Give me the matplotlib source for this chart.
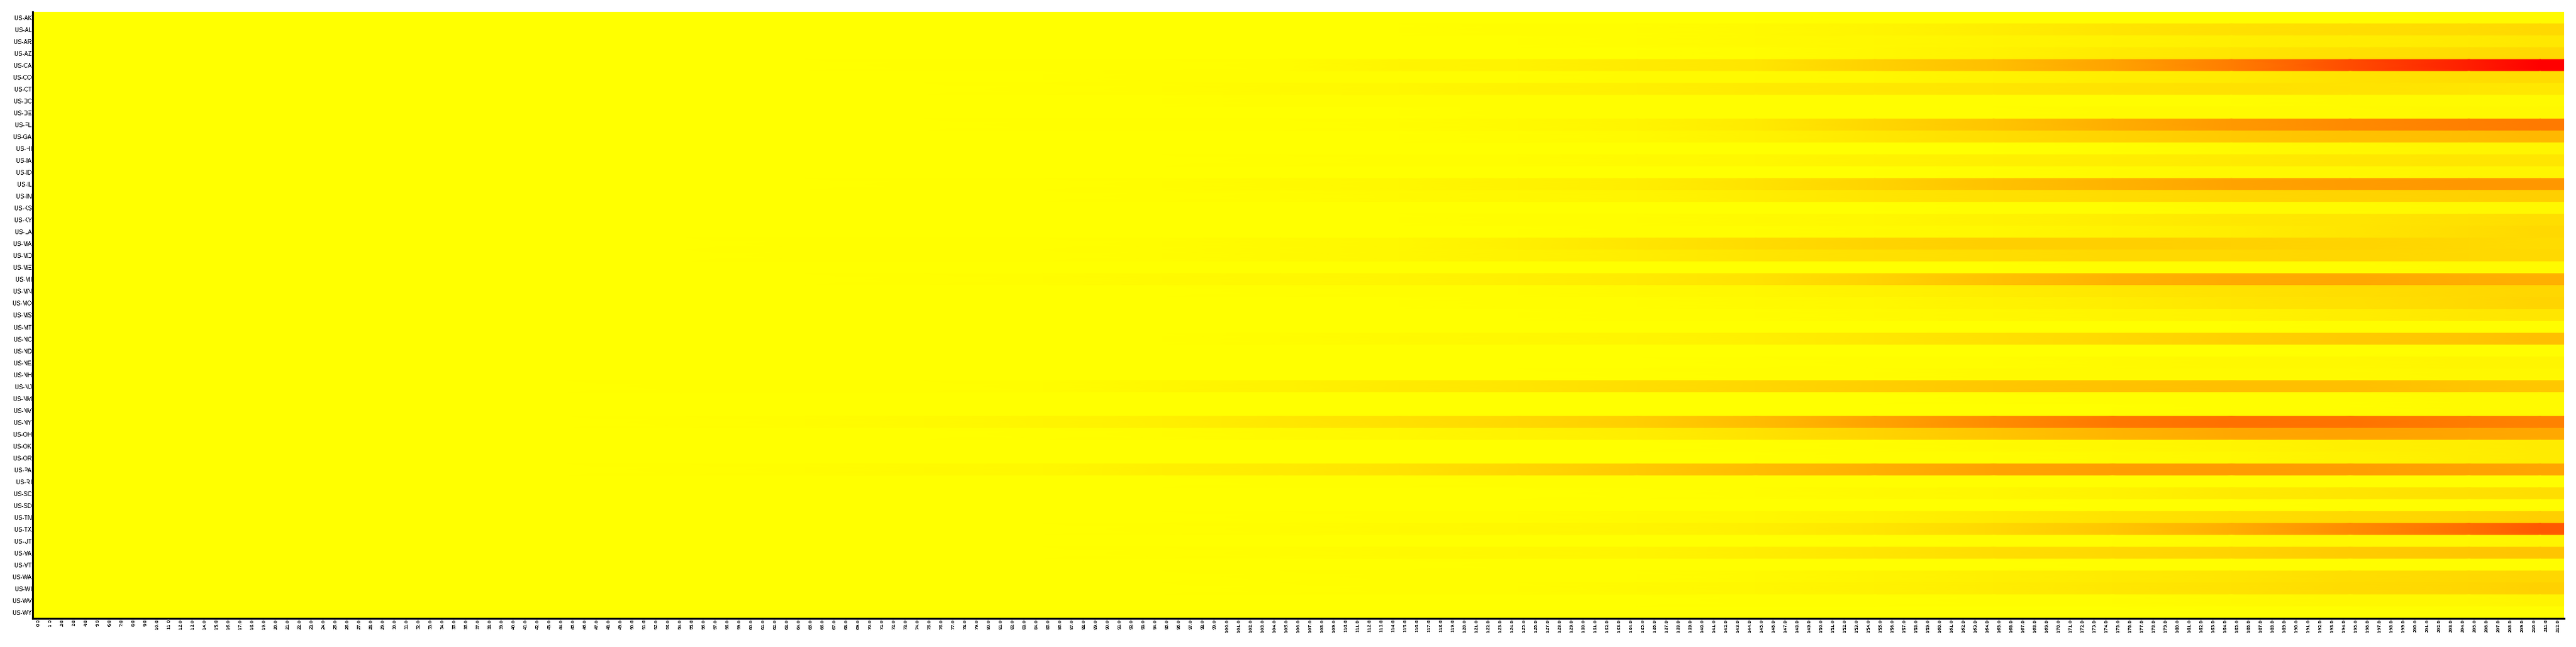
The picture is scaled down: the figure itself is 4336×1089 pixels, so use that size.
import numpy as np
import matplotlib
matplotlib.use("Agg")
import matplotlib.pyplot as plt

# the reference labels are drawn without smoothing
plt.rcParams["text.antialiased"] = False

# state codes, top to bottom
states = ["US-AK", "US-AL", "US-AR", "US-AZ", "US-CA", "US-CO", "US-CT", "US-DC", "US-DE",
          "US-FL", "US-GA", "US-HI", "US-IA", "US-ID", "US-IL", "US-IN", "US-KS", "US-KY",
          "US-LA", "US-MA", "US-MD", "US-ME", "US-MI", "US-MN", "US-MO", "US-MS", "US-MT",
          "US-NC", "US-ND", "US-NE", "US-NH", "US-NJ", "US-NM", "US-NV", "US-NY", "US-OH",
          "US-OK", "US-OR", "US-PA", "US-RI", "US-SC", "US-SD", "US-TN", "US-TX", "US-UT",
          "US-VA", "US-VT", "US-WA", "US-WI", "US-WV", "US-WY"]

# day columns shown on the x axis
days = list(range(213))
day_labels = ["%.1f" % d for d in days]

sample_days = [5, 15, 25, 35, 45, 55, 65, 75, 85, 95, 105, 115, 125, 135, 145,
               155, 165, 175, 185, 195, 205, 211]

# one row per state, one value per sample day (0 = yellow, 100 = red)
values = [
    [0, 0, 0, 0, 0, 0, 0, 0, 0, 0, 0, 0, 0, 0, 0, 1, 1, 1, 1, 1, 2, 2],            # AK
    [0, 0, 0, 0, 0, 0, 0, 0, 0, 0, 0, 0, 1, 1, 2, 4, 7, 10, 12, 13, 14, 15],       # AL
    [0, 0, 0, 0, 0, 0, 0, 0, 0, 0, 0, 0, 0, 1, 2, 3, 4, 5, 6, 7, 8, 9],            # AR
    [0, 0, 0, 0, 0, 0, 0, 0, 0, 0, 0, 0, 0, 0, 1, 3, 5, 8, 10, 12, 14, 15],        # AZ
    [0, 0, 0, 0, 0, 0, 0, 0.5, 0.5, 0.5, 1, 4, 5, 8, 10, 18, 25, 36, 51, 70, 88, 100],  # CA
    [0, 0, 0, 0, 0, 0, 0, 0, 0, 1, 1, 1, 1, 2, 2, 3, 5, 7, 8, 11, 13, 14],         # CO
    [0, 0, 0, 0, 0, 0, 0, 0, 0.5, 1, 2, 3, 5, 6, 8, 9, 10, 11, 12, 11, 10, 9],     # CT
    [0, 0, 0, 0, 0, 0, 0, 0, 0, 0, 1, 1, 1, 1, 1, 1, 1, 1, 1, 2, 2, 2],            # DC
    [0, 0, 0, 0, 0, 0, 0, 0, 0, 0, 0, 0, 1, 1, 1, 1, 1, 2, 2, 2, 3, 3],            # DE
    [0, 0, 0, 0, 0, 0, 0, 0, 0.5, 0.5, 0.5, 1, 2, 4, 8, 16, 23, 32, 40, 46, 50, 52],  # FL
    [0, 0, 0, 0, 0, 0, 0, 0, 0, 0, 0, 0, 1, 2, 5, 9, 13, 17, 21, 24, 26, 28],      # GA
    [0, 0, 0, 0, 0, 0, 0, 0, 0, 0, 0, 0, 0, 0, 0, 0, 0, 1, 2, 3, 4, 4],            # HI
    [0, 0, 0, 0, 0, 0, 0, 0, 0, 0, 0.5, 1, 1, 2, 3, 5, 6, 7, 8, 9, 10, 10],        # IA
    [0, 0, 0, 0, 0, 0, 0, 0, 0, 0, 0, 0, 0, 0, 0, 0, 1, 2, 3, 3, 4, 4],            # ID
    [0, 0, 0, 0, 0, 0, 0, 0.5, 0.5, 1, 2, 3, 5, 7, 11, 17, 24, 30, 36, 39, 41, 41],  # IL
    [0, 0, 0, 0, 0, 0, 0, 0, 0, 0.5, 1, 2, 3, 4, 7, 10, 12, 14, 16, 17, 18, 19],   # IN
    [0, 0, 0, 0, 0, 0, 0, 0, 0, 0, 0, 0, 0, 0, 0, 0, 1, 1, 2, 2, 3, 3],            # KS
    [0, 0, 0, 0, 0, 0, 0, 0, 0, 0, 0, 0, 1, 1, 2, 3, 5, 7, 9, 10, 12, 13],         # KY
    [0, 0, 0, 0, 0, 0, 0, 0, 0, 0, 0, 0, 0, 1, 1, 2, 3, 5, 7, 10, 13, 15],         # LA
    [0, 0, 0, 0, 0, 0, 0.5, 0.5, 0.5, 1, 2, 3, 6, 10, 14, 17, 19, 19, 18, 17, 15, 14],  # MA
    [0, 0, 0, 0, 0, 0, 0.5, 0.5, 0.5, 1, 2, 3, 5, 7, 10, 12, 13, 15, 15, 16, 15, 15],   # MD
    [0, 0, 0, 0, 0, 0, 0, 0, 0, 0, 0, 0, 0, 0, 0, 0, 0, 1, 1, 1, 2, 2],            # ME
    [0, 0, 0, 0, 0, 0, 0, 0.5, 1, 2, 3, 4, 6, 8, 11, 17, 24, 30, 33, 34, 32, 31],  # MI
    [0, 0, 0, 0, 0, 0, 0, 0, 0, 0, 0.5, 1, 1, 2, 3, 5, 7, 9, 11, 13, 15, 16],      # MN
    [0, 0, 0, 0, 0, 0, 0, 0, 0, 0, 0, 0, 1, 1, 2, 3, 5, 7, 10, 12, 15, 17],        # MO
    [0, 0, 0, 0, 0, 0, 0, 0, 0, 0, 0, 0, 0, 1, 1, 2, 3, 4, 5, 7, 9, 10],           # MS
    [0, 0, 0, 0, 0, 0, 0, 0, 0, 0, 0, 0, 0, 0, 0, 0, 0, 0, 0, 1, 1, 1],            # MT
    [0, 0, 0, 0, 0, 0, 0, 0, 0, 0, 1, 2, 3, 4, 6, 9, 12, 15, 18, 21, 23, 25],      # NC
    [0, 0, 0, 0, 0, 0, 0, 0, 0, 0, 0, 0, 0, 0, 0, 0, 0, 0, 0, 0.5, 1, 1],          # ND
    [0, 0, 0, 0, 0, 0, 0, 0, 0, 0, 0, 0, 0, 0, 0.5, 1, 1, 2, 3, 3, 4, 4],          # NE
    [0, 0, 0, 0, 0, 0, 0, 0, 0, 0, 0, 0, 0, 0.5, 1, 1, 2, 2, 2, 2, 3, 3],          # NH
    [0, 0, 0, 0, 0, 0.5, 0.5, 0.5, 1, 3, 5, 8, 10, 13, 16, 19, 22, 24, 25, 25, 23, 22],  # NJ
    [0, 0, 0, 0, 0, 0, 0, 0, 0, 0, 0, 0, 0, 0, 0, 0, 0.5, 1, 1, 1, 2, 2],          # NM
    [0, 0, 0, 0, 0, 0, 0, 0, 0, 0, 0, 0, 0, 0, 0, 0, 0, 0, 1, 1, 2, 2],            # NV
    [0, 0, 0, 0, 0, 0.5, 1, 2, 4, 6, 9, 12, 15, 19, 26, 36, 45, 53, 56, 55, 51, 49],   # NY
    [0, 0, 0, 0, 0, 0, 0, 0, 0.5, 1, 2, 3, 5, 7, 11, 17, 23, 29, 34, 36, 35, 34],  # OH
    [0, 0, 0, 0, 0, 0, 0, 0, 0, 0, 0, 0, 0, 0, 0.5, 1, 2, 3, 4, 6, 7, 8],          # OK
    [0, 0, 0, 0, 0, 0, 0, 0, 0, 0, 0, 0, 0, 0, 0, 1, 1, 2, 3, 5, 7, 8],            # OR
    [0, 0, 0, 0, 0, 0.5, 1, 2, 3, 6, 8, 11, 16, 21, 26, 31, 36, 38, 39, 38, 36, 35],   # PA
    [0, 0, 0, 0, 0, 0, 0, 0, 0, 0, 0.5, 0.5, 1, 1, 1, 1, 1, 1, 1, 1, 1, 1],        # RI
    [0, 0, 0, 0, 0, 0, 0, 0, 0, 0, 0, 0, 0, 0.5, 1, 2, 3, 5, 8, 10, 12, 13],       # SC
    [0, 0, 0, 0, 0, 0, 0, 0, 0, 0, 0, 0, 0, 0, 0, 0, 0, 0.5, 0.5, 1, 1, 1],        # SD
    [0, 0, 0, 0, 0, 0, 0, 0, 0, 0, 0.5, 1, 1, 2, 3, 5, 8, 11, 13, 15, 17, 19],     # TN
    [0, 0, 0, 0, 0, 0, 0, 0, 0, 0.5, 1, 2, 3, 4, 6, 10, 15, 22, 32, 45, 57, 65],   # TX
    [0, 0, 0, 0, 0, 0, 0, 0, 0, 0, 0, 0, 0, 0, 0, 0.5, 1, 1, 2, 3, 3, 4],          # UT
    [0, 0, 0, 0, 0, 0, 0, 0, 0, 0.5, 1, 2, 3, 4, 7, 10, 13, 15, 17, 20, 22, 23],   # VA
    [0, 0, 0, 0, 0, 0, 0, 0, 0, 0, 0, 0, 0.5, 0.5, 0.5, 0.5, 0.5, 1, 1, 1, 1, 1],  # VT
    [0, 0, 0, 0, 0, 0, 0, 0, 0, 0, 0.5, 1, 1, 1, 2, 4, 6, 8, 10, 13, 15, 16],      # WA
    [0, 0, 0, 0, 0, 0, 0, 0, 0, 0, 0.5, 1, 1, 2, 3, 5, 7, 9, 11, 14, 16, 18],      # WI
    [0, 0, 0, 0, 0, 0, 0, 0, 0, 0, 0, 0, 0, 0, 0.5, 0.5, 1, 1, 2, 3, 3, 4],        # WV
    [0, 0, 0, 0, 0, 0, 0, 0, 0, 0, 0, 0, 0, 0, 0, 0, 0, 0, 0.5, 0.5, 1, 1],        # WY
]

data = np.array(values, dtype=float)
n_rows = len(states)

# mesh vertices: each state row gets a top and a bottom edge carrying its own samples,
# the first / last sample is held out to the plot edges
xs = np.array([0] + sample_days + [len(days)], dtype=float)
cs = np.hstack([data[:, :1], data, data[:, -1:]])
X = np.tile(xs, (2 * n_rows, 1))
Y = np.repeat(np.arange(n_rows), 2)[:, None] + np.tile([0, 1], n_rows)[:, None] + 0 * xs
C = np.repeat(cs, 2, axis=0)

fig = plt.figure(figsize=(43.36, 10.89), dpi=100)
ax = fig.add_axes([55 / 4336, 1 - 1041 / 1089, (4316 - 55) / 4336, (1041 - 20) / 1089])

ax.pcolormesh(X, Y, C, cmap="autumn_r", vmin=0, vmax=data.max(), shading="gouraud")
ax.set_xlim(0, len(days))
ax.set_ylim(n_rows, 0)

ax.set_yticks(np.arange(n_rows) + 0.5)
ax.set_yticklabels(states, fontsize=7, family="Liberation Sans")
ax.set_xticks(np.array(days) + 0.5)
ax.set_xticklabels(day_labels, rotation=90, fontsize=6, family="Liberation Sans")
ax.tick_params(axis="both", length=0, pad=1)

for side in ["top", "right"]:
    ax.spines[side].set_visible(False)
for side in ["left", "bottom"]:
    ax.spines[side].set_linewidth(2.3)
    ax.spines[side].set_color("black")

fig.savefig("out.png", dpi=100)
